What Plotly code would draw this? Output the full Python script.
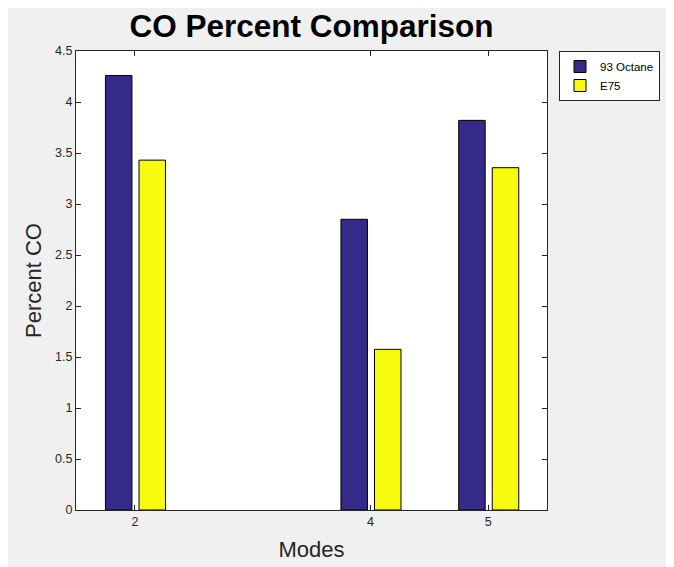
import plotly.graph_objects as go

modes = [2, 4, 5]
octane93 = [4.26, 2.85, 3.82]
e75 = [3.43, 1.575, 3.356]
series_names = ["93 Octane", "E75"]
y_ticks = [0, 0.5, 1, 1.5, 2, 2.5, 3, 3.5, 4, 4.5]
y_tick_labels = ["0", "0.5", "1", "1.5", "2", "2.5", "3", "3.5", "4", "4.5"]

W, H = 666, 559
L, R, T, B = 68, 127, 43, 57
pw, ph = W - L - R, H - T - B

fig = go.Figure()
fig.add_trace(go.Bar(x=modes, y=octane93, name=series_names[0], offset=-0.25, width=0.225,
                     marker=dict(color="rgb(53,42,135)", line=dict(color="black", width=1))))
fig.add_trace(go.Bar(x=modes, y=e75, name=series_names[1], offset=0.035, width=0.225,
                     marker=dict(color="rgb(249,251,14)", line=dict(color="black", width=1))))

axcol = "#262626"
fig.update_layout(
    width=W, height=H,
    margin=dict(l=L, r=R, t=T, b=B, autoexpand=False),
    paper_bgcolor="#f0f0f0", plot_bgcolor="white",
    barmode="overlay",
    font=dict(family="Liberation Sans, Arial, sans-serif", color=axcol),
    title=dict(text="<b>CO Percent Comparison</b>", x=(L + pw / 2) / W, xanchor="center",
               y=1 - 18 / H, yanchor="middle", font=dict(size=31.5, color="black")),
    xaxis=dict(range=[1.5, 5.5], tickvals=modes, ticktext=[str(m) for m in modes],
               ticks="inside", ticklen=5, tickcolor=axcol, showline=True, mirror="ticks",
               linecolor=axcol, linewidth=1, showgrid=False, zeroline=False,
               tickfont=dict(size=12.5, color=axcol),
               title=dict(text="Modes", font=dict(size=22, color=axcol), standoff=13)),
    yaxis=dict(range=[0, 4.5], tickvals=y_ticks, ticktext=y_tick_labels,
               ticks="inside", ticklen=5, tickcolor=axcol, showline=True, mirror="ticks",
               linecolor=axcol, linewidth=1, showgrid=False, zeroline=False,
               tickfont=dict(size=12.5, color=axcol),
               title=dict(text="Percent CO", font=dict(size=22, color=axcol), standoff=7)),
    legend=dict(x=(551 - L) / pw, y=1.0, xanchor="left", yanchor="top",
                bgcolor="white", bordercolor=axcol, borderwidth=1,
                font=dict(size=11.5, color="black"), tracegroupgap=0,
                itemwidth=30),
    showlegend=True,
)

fig.write_html("out.html")
